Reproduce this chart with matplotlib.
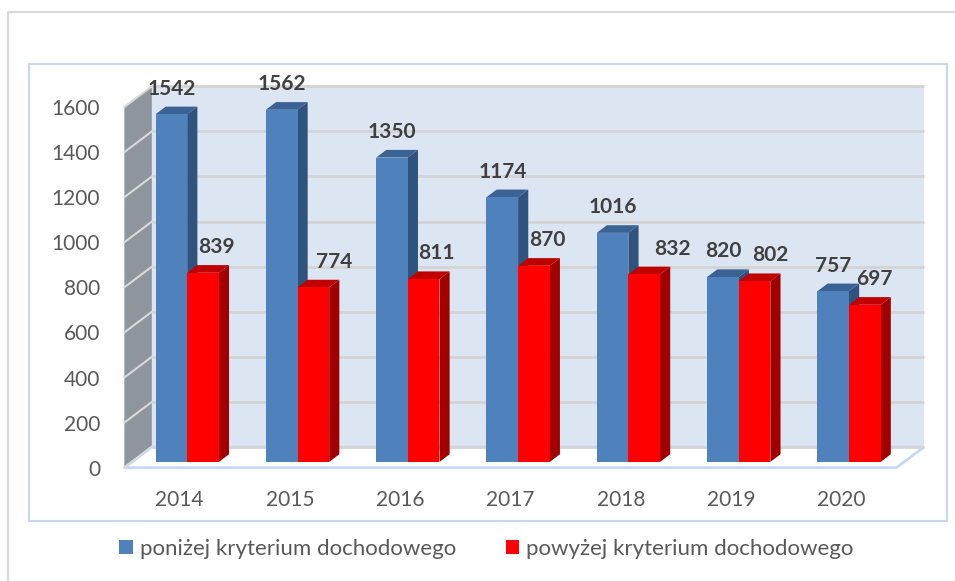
import matplotlib
matplotlib.use("Agg")
import matplotlib.pyplot as plt
from matplotlib.patches import Polygon, Rectangle, Patch
from matplotlib.lines import Line2D

# dane
years = ["2014", "2015", "2016", "2017", "2018", "2019", "2020"]
ponizej = [1542, 1562, 1350, 1174, 1016, 820, 757]
powyzej = [839, 774, 811, 870, 832, 802, 697]
series_names = ["poniżej kryterium dochodowego", "powyżej kryterium dochodowego"]
y_ticks = list(range(0, 1601, 200))

# przesunięcia etykiet (px) - w oryginale etykiety czerwonych słupków są przesunięte ręcznie
nudge_red_px = [13, 21, 13, 13, 28, 16, 10]

plt.rcParams["font.family"] = ["Lato", "DejaVu Sans"]

BLUE = ("#4f81bd", "#3a6294", "#30527f")   # front, top, side
RED = ("#ff0000", "#c00000", "#a00000")
TXT = "#595959"

# geometria "3D": głębokość w jednostkach danych
PX_X = 110.3          # px na kategorię
PX_Y = 0.22544        # px na jednostkę wartości
DX = 27.5 / PX_X
DY = 20.7 / PX_Y
F0, F1 = 0.28, 0.65   # zakres głębokości słupków
W = 0.287
YMAX = 1600

fig = plt.figure(figsize=(9.55, 5.81), dpi=100)
left_px = 179.5 - 0.5 * PX_X
right_px = 179.5 + (len(years) - 0.5 + DX) * PX_X
bottom_px = 467.7
top_px = bottom_px - (YMAX + DY) * PX_Y
ax = fig.add_axes([left_px / 955, (581 - bottom_px) / 581,
                   (right_px - left_px) / 955, (bottom_px - top_px) / 581])
xmin, xmax = -0.5, len(years) - 0.5
ax.set_xlim(xmin, xmax + DX)
ax.set_ylim(0, YMAX + DY)
ax.patch.set_visible(False)
for s in ax.spines.values():
    s.set_visible(False)

# ściany
ax.add_patch(Polygon([(xmin + DX, DY), (xmax + DX, DY), (xmax + DX, YMAX + DY), (xmin + DX, YMAX + DY)],
                     closed=True, facecolor="#dce6f2", edgecolor="none", zorder=0))
ax.add_patch(Polygon([(xmin, 0), (xmin + DX, DY), (xmin + DX, YMAX + DY), (xmin, YMAX)],
                     closed=True, facecolor="#8e959d", edgecolor="none", zorder=0.5))
ax.add_patch(Polygon([(xmin, 0), (xmax, 0), (xmax + DX, DY), (xmin + DX, DY)],
                     closed=True, facecolor="white", edgecolor="#c6d9f1", linewidth=2, zorder=0.6,
                     clip_on=False))
for v in y_ticks:
    ax.plot([xmin + DX, xmax + DX], [v + DY, v + DY], color="#d4d4d4", linewidth=2, zorder=1,
            solid_capstyle="butt", clip_on=False)
    ax.plot([xmin, xmin + DX], [v, v + DY], color="#d9d9d9", linewidth=1.5, zorder=1, clip_on=False)


def bar3d(xc, values, colors, z):
    x0 = [x - W / 2 + DX * F0 for x in xc]
    ax.bar(x0, values, width=W, bottom=DY * F0, align="edge", color=colors[0],
           edgecolor="none", zorder=z + 0.05)
    ddx, ddy = DX * (F1 - F0), DY * (F1 - F0)
    for a, v in zip(x0, values):
        b = a + W
        y0, y1 = DY * F0, v + DY * F0
        ax.add_patch(Polygon([(a, y1), (b, y1), (b + ddx, y1 + ddy), (a + ddx, y1 + ddy)],
                             closed=True, facecolor=colors[1], edgecolor="none", zorder=z))
        ax.add_patch(Polygon([(b, y0), (b + ddx, y0 + ddy), (b + ddx, y1 + ddy), (b, y1)],
                             closed=True, facecolor=colors[2], edgecolor="none", zorder=z))


idx = list(range(len(years)))
bar3d([i - W / 2 for i in idx], ponizej, BLUE, 3)
bar3d([i + W / 2 for i in idx], powyzej, RED, 3.2)

# etykiety danych
for i in idx:
    for xc, v, nd in ((i - W / 2, ponizej[i], 0), (i + W / 2, powyzej[i], nudge_red_px[i])):
        ax.annotate(str(v), (xc + DX * F0, v + DY * F1), xytext=(nd * 0.72, 18 * 0.72),
                    textcoords="offset points", ha="center", va="center",
                    fontsize=15, fontweight="bold", color="#404040", zorder=10)

ax.set_yticks(y_ticks)
ax.set_xticks(idx, years)
ax.tick_params(axis="y", length=0, pad=17.5, labelsize=15, labelcolor=TXT)
ax.tick_params(axis="x", length=0, pad=16, labelsize=15, labelcolor=TXT)

# ramki
fig.add_artist(Line2D([7.5 / 955, 7.5 / 955, 1], [0, 1 - 12 / 581, 1 - 12 / 581],
                      color="#d9d9d9", linewidth=1.5))
fig.add_artist(Rectangle((29 / 955, (581 - 520.5) / 581), (946.7 - 29) / 955, (520.5 - 63.5) / 581,
                         fill=False, edgecolor="#c6d9f1", linewidth=1.5))

fig.legend(handles=[Patch(facecolor=BLUE[0]), Patch(facecolor=RED[0])], labels=series_names,
           loc="center", bbox_to_anchor=(486.5 / 955, 1 - 549 / 581), ncol=2, frameon=False,
           fontsize=16, handlelength=0.6, handleheight=0.6, handletextpad=0.32,
           columnspacing=2.25, labelcolor=TXT)

fig.savefig("out.png", dpi=100)
